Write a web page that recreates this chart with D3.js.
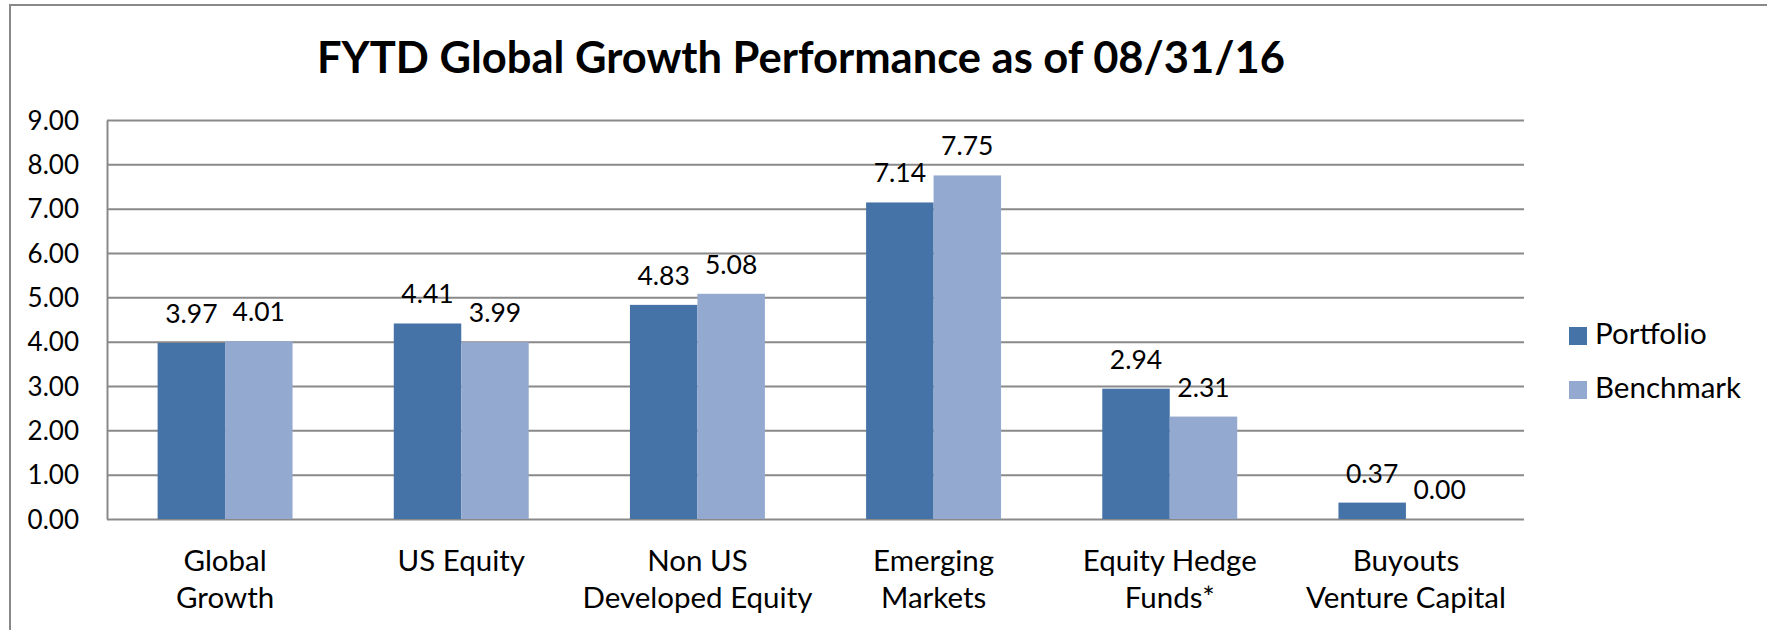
<!DOCTYPE html>
<html>
<head>
<meta charset="utf-8">
<script src="https://d3js.org/d3.v7.min.js"></script>
<style>
  body { margin: 0; background: #fff; }
  text { font-family: Lato, "Open Sans", sans-serif; fill: #000; }
</style>
</head>
<body>
<div id="chart"></div>
<script>
const categories = ['Global Growth', 'US Equity', 'Non US Developed Equity', 'Emerging Markets', 'Equity Hedge Funds*', 'Buyouts Venture Capital'];
const categoryLines = [['Global', 'Growth'], ['US Equity'], ['Non US', 'Developed Equity'], ['Emerging', 'Markets'], ['Equity Hedge', 'Funds*'], ['Buyouts', 'Venture Capital']];
const series = ['Portfolio', 'Benchmark'];
const portfolio = [3.97, 4.41, 4.83, 7.14, 2.94, 0.37];
const benchmark = [4.01, 3.99, 5.08, 7.75, 2.31, 0.00];
const yTicks = [0, 1, 2, 3, 4, 5, 6, 7, 8, 9];
const colors = ['#4572A7', '#94A9CF'];

const W = 1767, H = 630;
const plot = {left: 107, right: 1524, top: 120, bottom: 519};

const svg = d3.select('#chart').append('svg')
  .attr('width', W)
  .attr('height', H);

// chart frame
svg.append('rect')
  .attr('x', 10).attr('y', 5)
  .attr('width', W).attr('height', H)
  .attr('fill', 'none')
  .attr('stroke', '#898989')
  .attr('stroke-width', 2);

const y = d3.scaleLinear().domain([0, 9]).range([plot.bottom, plot.top]);
const gap = 1.5 / 3.5;
const x0 = d3.scaleBand().domain(categories).range([plot.left, plot.right])
  .paddingInner(gap).paddingOuter(gap / 2);
const x1 = d3.scaleBand().domain(series).range([0, x0.bandwidth()]);

// gridlines + y axis
const yAxis = svg.append('g')
  .attr('transform', `translate(${plot.left},0)`)
  .call(d3.axisLeft(y).tickValues(yTicks).tickFormat(d3.format('.2f'))
    .tickSize(-(plot.right - plot.left)).tickSizeOuter(0).tickPadding(28));
yAxis.selectAll('.domain').attr('stroke', '#898989').attr('stroke-width', 2);
yAxis.selectAll('.tick line').attr('stroke', '#898989').attr('stroke-width', 2);
yAxis.selectAll('.tick text')
  .attr('font-size', 26)
  .attr('dy', '0.35em')
  .attr('font-family', 'Lato, sans-serif')
  .attr('fill', '#000');

// bars
const rows = categories.map((c, i) => ({cat: c, vals: [portfolio[i], benchmark[i]]}));
const groups = svg.selectAll('g.grp')
  .data(rows)
  .enter().append('g')
  .attr('class', 'grp')
  .attr('transform', d => `translate(${x0(d.cat)},0)`);

groups.selectAll('rect')
  .data(d => d.vals.map((v, j) => ({s: series[j], v: v, j: j})))
  .enter().append('rect')
  .attr('x', d => x1(d.s))
  .attr('y', d => y(d.v))
  .attr('width', x1.bandwidth())
  .attr('height', d => y(0) - y(d.v))
  .attr('fill', d => colors[d.j]);

groups.selectAll('text.val')
  .data(d => d.vals.map((v, j) => ({s: series[j], v: v})))
  .enter().append('text')
  .attr('class', 'val')
  .attr('x', d => x1(d.s) + x1.bandwidth() / 2)
  .attr('y', d => y(d.v) - 20)
  .attr('text-anchor', 'middle')
  .attr('font-size', 26.5)
  .text(d => d.v.toFixed(2));

// category labels
const xAxis = svg.append('g')
  .attr('transform', `translate(0,${plot.bottom})`)
  .call(d3.axisBottom(x0).tickSize(0).tickPadding(0));
xAxis.select('.domain').remove();
xAxis.selectAll('.tick text').each(function(d, i) {
  const t = d3.select(this).text(null)
    .attr('font-size', 29.5)
    .attr('font-family', 'Lato, sans-serif')
    .attr('fill', '#000')
    .attr('y', 0).attr('dy', null);
  categoryLines[i].forEach((line, k) => {
    t.append('tspan').attr('x', 0).attr('y', 52 + k * 37).text(line);
  });
});

// title
svg.append('text')
  .attr('x', 801)
  .attr('y', 73)
  .attr('text-anchor', 'middle')
  .attr('font-size', 43.5)
  .attr('font-weight', 'bold')
  .text('FYTD Global Growth Performance as of 08/31/16');

// legend
const legend = svg.append('g').attr('transform', 'translate(1569,327)');
series.forEach((s, i) => {
  legend.append('rect')
    .attr('x', 0).attr('y', i * 54)
    .attr('width', 18).attr('height', 18)
    .attr('fill', colors[i]);
  legend.append('text')
    .attr('x', 26).attr('y', i * 54 + 17)
    .attr('font-size', 29.5)
    .text(s);
});
</script>
</body>
</html>
